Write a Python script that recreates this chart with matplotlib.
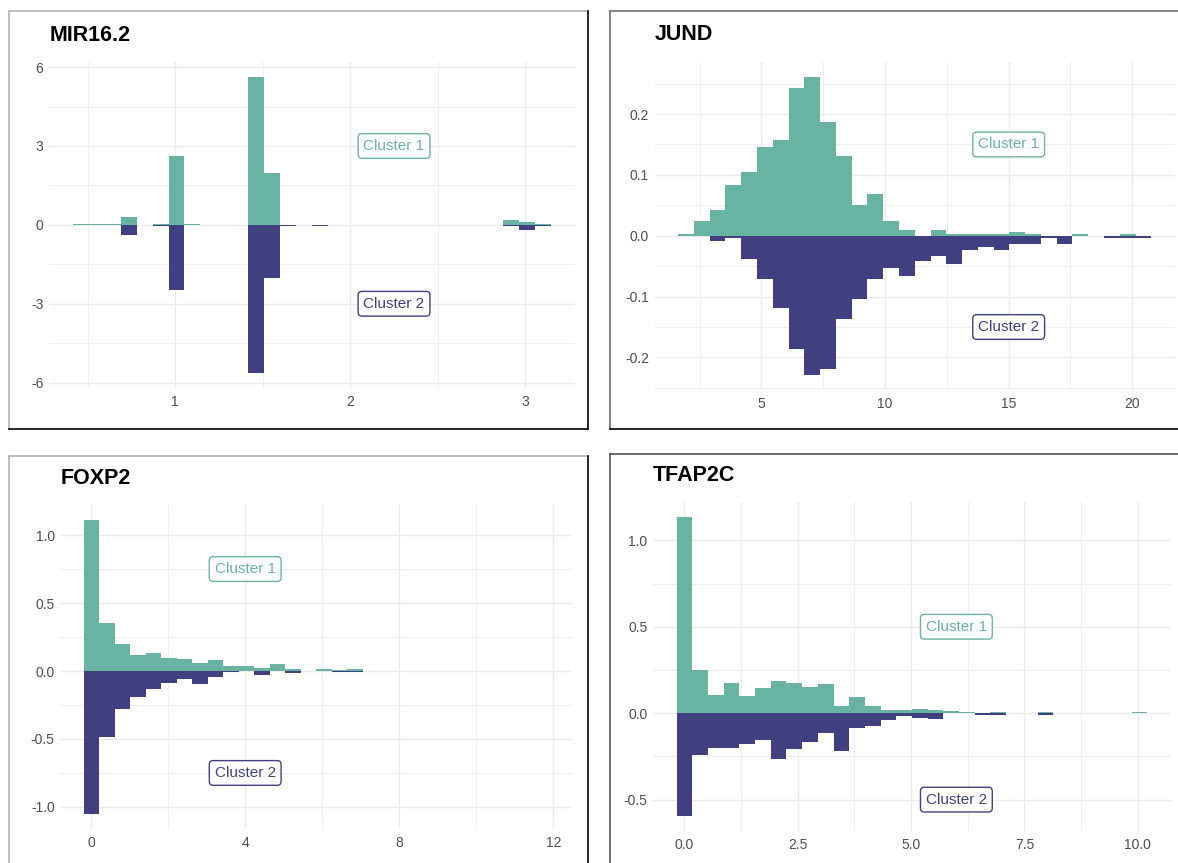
import numpy as np
import matplotlib
matplotlib.use("Agg")
import matplotlib.pyplot as plt
from matplotlib.lines import Line2D

plt.rcParams['font.family'] = ['Liberation Sans Narrow', 'Liberation Sans', 'DejaVu Sans']
plt.rcParams['axes.unicode_minus'] = False

W, H = 1178, 863
GREEN = "#69b3a2"
PURPLE = "#404080"

# ---------------- data ----------------
genes = ["MIR16.2", "JUND", "FOXP2", "TFAP2C"]

# histogram range (30 bins) per gene
mir_range = [0.416, 3.147]
jund_range = [1.63, 20.77]
foxp2_range = [-0.196, 11.88]
tfap2c_range = [-0.165, 10.21]

mir_c1 = [0.02, 0.05, 0.02, 0.29, 0, 0.02, 2.60, 0.03, 0, 0, 0, 5.63, 1.96, 0, 0,
          0, 0, 0, 0, 0, 0, 0, 0, 0, 0, 0, 0, 0.18, 0.11, 0.03]
mir_c2 = [0, 0, 0, 0.39, 0, 0.03, 2.47, 0, 0, 0, 0, 5.64, 2.03, 0.03, 0,
          0.03, 0, 0, 0, 0, 0, 0, 0, 0, 0, 0, 0, 0.06, 0.19, 0.03]

jund_c1 = [0.003, 0.024, 0.042, 0.083, 0.104, 0.145, 0.158, 0.243, 0.261, 0.187,
           0.131, 0.051, 0.068, 0.024, 0.009, 0, 0.009, 0.003, 0.003, 0.003,
           0.003, 0.006, 0.003, 0, 0, 0.003, 0, 0, 0.003, 0]
jund_c2 = [0, 0, 0.009, 0.004, 0.0375, 0.071, 0.119, 0.186, 0.229, 0.219,
           0.1375, 0.104, 0.071, 0.053, 0.066, 0.042, 0.033, 0.047, 0.023, 0.0185,
           0.023, 0.014, 0.014, 0.004, 0.014, 0, 0, 0.004, 0.004, 0.004]

foxp2_c1 = [1.113, 0.355, 0.196, 0.115, 0.130, 0.098, 0.088, 0.061, 0.078, 0.034,
            0.039, 0.020, 0.049, 0.017, 0, 0.017, 0.005, 0.012, 0, 0,
            0, 0, 0.003, 0.003, 0.003, 0, 0, 0, 0, 0.003]
foxp2_c2 = [1.054, 0.485, 0.282, 0.191, 0.130, 0.088, 0.061, 0.096, 0.044, 0.007,
            0, 0.029, 0, 0.015, 0, 0, 0.005, 0.005, 0, 0,
            0, 0, 0, 0, 0, 0, 0, 0, 0, 0]

tfap2c_c1 = [1.135, 0.251, 0.108, 0.176, 0.102, 0.147, 0.187, 0.172, 0.153, 0.170,
             0.044, 0.095, 0.044, 0.017, 0.017, 0.025, 0.017, 0.010, 0.006, 0,
             0.006, 0, 0, 0.006, 0, 0, 0, 0, 0, 0.006]
tfap2c_c2 = [0.595, 0.243, 0.201, 0.199, 0.180, 0.156, 0.263, 0.208, 0.164, 0.114,
             0.218, 0.085, 0.075, 0.042, 0.017, 0.025, 0.035, 0, 0, 0.008,
             0.008, 0, 0, 0.008, 0, 0, 0, 0, 0, 0]

# ticks
mir_xticks = [1, 2, 3];               mir_xlabels = ["1", "2", "3"]
mir_xminor = [0.5, 1.5, 2.5]
mir_yticks = [6, 3, 0, -3, -6];       mir_ylabels = ["6", "3", "0", "-3", "-6"]
mir_yminor = [4.5, 1.5, -1.5, -4.5]

jund_xticks = [5, 10, 15, 20];        jund_xlabels = ["5", "10", "15", "20"]
jund_xminor = [2.5, 7.5, 12.5, 17.5]
jund_yticks = [0.2, 0.1, 0.0, -0.1, -0.2]; jund_ylabels = ["0.2", "0.1", "0.0", "-0.1", "-0.2"]
jund_yminor = [0.25, 0.15, 0.05, -0.05, -0.15, -0.25]

foxp2_xticks = [0, 4, 8, 12];         foxp2_xlabels = ["0", "4", "8", "12"]
foxp2_xminor = [2, 6, 10]
foxp2_yticks = [1.0, 0.5, 0.0, -0.5, -1.0]; foxp2_ylabels = ["1.0", "0.5", "0.0", "-0.5", "-1.0"]
foxp2_yminor = [0.75, 0.25, -0.25, -0.75]

tfap2c_xticks = [0, 2.5, 5, 7.5, 10]; tfap2c_xlabels = ["0.0", "2.5", "5.0", "7.5", "10.0"]
tfap2c_xminor = [1.25, 3.75, 6.25, 8.75]
tfap2c_yticks = [1.0, 0.5, 0.0, -0.5]; tfap2c_ylabels = ["1.0", "0.5", "0.0", "-0.5"]
tfap2c_yminor = [0.75, 0.25, -0.25]

# label positions (x, y for "Cluster 1"; Cluster 2 mirrored)
label_pos = {"MIR16.2": (2.25, 3.0), "JUND": (15, 0.15), "FOXP2": (4, 0.75), "TFAP2C": (6, 0.5)}

# ---------------- layout (pixels) ----------------
axes_px = {  # left, right, top, bottom
    "MIR16.2": (49, 575, 62, 388),
    "JUND": (654.5, 1175, 62, 390),
    "FOXP2": (60.3, 572, 505, 829),
    "TFAP2C": (653, 1171, 502, 831),
}
title_px = {"MIR16.2": (50, 35.5), "JUND": (654.5, 34.7), "FOXP2": (60.3, 478), "TFAP2C": (653, 475.5)}
border_px = {  # left, right, top, bottom, light(top/left) colour
    "MIR16.2": (8.5, 587.5, 11.5, 429.3, "#b4b4b4"),
    "JUND": (609.5, 1190, 10.8, 429.3, "#707070"),
    "FOXP2": (8.5, 587.5, 455.8, 880, "#b4b4b4"),
    "TFAP2C": (609.5, 1190, 453.8, 880, "#555555"),
}

fig = plt.figure(figsize=(W / 100, H / 100), dpi=100)
fig.patch.set_facecolor("white")


def fx(x):
    return x / W


def fy(y):
    return 1 - y / H


panels = {
    "MIR16.2": (mir_range, mir_c1, mir_c2, mir_xticks, mir_xlabels, mir_xminor, mir_yticks, mir_ylabels, mir_yminor),
    "JUND": (jund_range, jund_c1, jund_c2, jund_xticks, jund_xlabels, jund_xminor, jund_yticks, jund_ylabels, jund_yminor),
    "FOXP2": (foxp2_range, foxp2_c1, foxp2_c2, foxp2_xticks, foxp2_xlabels, foxp2_xminor, foxp2_yticks, foxp2_ylabels, foxp2_yminor),
    "TFAP2C": (tfap2c_range, tfap2c_c1, tfap2c_c2, tfap2c_xticks, tfap2c_xlabels, tfap2c_xminor, tfap2c_yticks, tfap2c_ylabels, tfap2c_yminor),
}

for g in genes:
    rng, c1, c2, xt, xl, xm, yt, yl, ym = panels[g]
    l, r, t, b = axes_px[g]
    ax = fig.add_axes([fx(l), fy(b), fx(r) - fx(l), fy(t) - fy(b)])
    edges = np.linspace(rng[0], rng[1], 31)
    widths = np.diff(edges)
    c1 = np.array(c1)
    c2 = np.array(c2)
    ax.bar(edges[:-1], c1, width=widths, align="edge", color=GREEN, linewidth=0, zorder=3)
    ax.bar(edges[:-1], -c2, width=widths, align="edge", color=PURPLE, linewidth=0, zorder=3)

    span = rng[1] - rng[0]
    ax.set_xlim(rng[0] - 0.05 * span, rng[1] + 0.05 * span)
    ymax, ymin = c1.max(), -c2.max()
    yspan = ymax - ymin
    ax.set_ylim(ymin - 0.05 * yspan, ymax + 0.05 * yspan)

    ax.set_xticks(xt)
    ax.set_xticklabels(xl)
    ax.set_xticks(xm, minor=True)
    ax.set_yticks(yt)
    ax.set_yticklabels(yl)
    ax.set_yticks(ym, minor=True)
    ax.grid(True, which="major", color="#EBEBEB", linewidth=1.0, zorder=0)
    ax.grid(True, which="minor", color="#EFEFEF", linewidth=0.7, zorder=0)
    ax.set_axisbelow(True)
    for s in ax.spines.values():
        s.set_visible(False)
    ax.tick_params(which="both", length=0, labelsize=10, labelcolor="#4D4D4D")
    ax.tick_params(axis="x", pad=5)
    ax.tick_params(axis="y", pad=4)

    lx, ly = label_pos[g]
    ax.text(lx, ly, "Cluster 1", color=GREEN, fontsize=11, ha="center", va="center", zorder=5,
            bbox=dict(boxstyle="round,pad=0.35,rounding_size=0.25", fc="white", ec=GREEN, lw=1.0))
    ax.text(lx, -ly, "Cluster 2", color=PURPLE, fontsize=11, ha="center", va="center", zorder=5,
            bbox=dict(boxstyle="round,pad=0.35,rounding_size=0.25", fc="white", ec=PURPLE, lw=1.0))

    tx, ty = title_px[g]
    fig.text(fx(tx), fy(ty), g, fontsize=15.5, fontweight="bold", color="black", ha="left", va="center")

    bl, br, bt, bb, lc = border_px[g]
    fig.add_artist(Line2D([fx(bl), fx(br)], [fy(bt), fy(bt)], color=lc, lw=1.2))
    fig.add_artist(Line2D([fx(bl), fx(bl)], [fy(bt), fy(bb)], color=lc, lw=1.2))
    fig.add_artist(Line2D([fx(br), fx(br)], [fy(bt), fy(bb)], color="black", lw=1.2))
    fig.add_artist(Line2D([fx(bl), fx(br)], [fy(bb), fy(bb)], color="black", lw=1.2))

fig.savefig("out.png", dpi=100, facecolor="white")
